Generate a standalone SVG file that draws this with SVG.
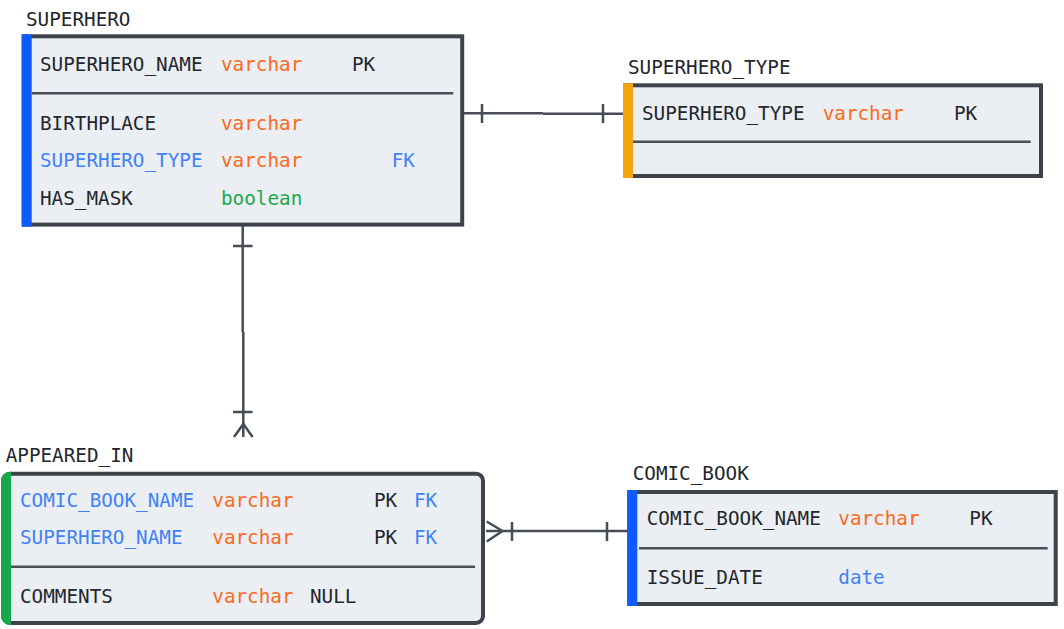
<svg xmlns="http://www.w3.org/2000/svg" width="1064" height="629" viewBox="0 0 1064 629">
<style>
  text { font-family: "DejaVu Sans Mono", "Liberation Mono", monospace; font-size: 19.3px; fill: #22262d; }
  .title { fill: #22262d; }
  .ty { fill: #fa6a1c; }
  .fk { fill: #3f82f7; }
  .bool { fill: #1aa84d; }
  .box { fill: #ebeef3; stroke: #3e424b; stroke-width: 4; }
  .div { stroke: #4a4f58; stroke-width: 2.5; fill: none; }
  .conn { stroke: #474c56; stroke-width: 2.5; fill: none; }
</style>
<rect width="1064" height="629" fill="#ffffff"/>

<g id="connectors">
  <!-- SUPERHERO -> SUPERHERO_TYPE -->
  <path class="conn" d="M 464 113.3 H 543 M 543 113.8 H 623"/>
  <path class="conn" d="M 482 104 V 123 M 603 104 V 123"/>
  <!-- SUPERHERO -> APPEARED_IN -->
  <path class="conn" d="M 242.7 226 V 332 M 243.3 332 V 437"/>
  <path class="conn" d="M 233 246 H 252.5 M 233 412 H 252.5"/>
  <path class="conn" d="M 234 437 L 243.3 424 L 252.6 437"/>
  <!-- APPEARED_IN -> COMIC_BOOK -->
  <path class="conn" d="M 486 531 H 627"/>
  <path class="conn" d="M 512 522 V 541 M 607 522 V 541"/>
  <path class="conn" d="M 486.7 521.5 L 502.5 531 L 486.7 541.5"/>
</g>

<g id="superhero">
  <text class="title" x="26" y="25.7">SUPERHERO</text>
  <rect class="box" x="23.7" y="36.3" width="438.5" height="188.3"/>
  <rect x="21.7" y="34.3" width="10" height="192.4" fill="#0d5bff"/>
  <line class="div" x1="32" y1="93.3" x2="453.3" y2="93.3"/>
  <text x="40" y="70.7">SUPERHERO_NAME</text>
  <text class="ty" x="221" y="70.7">varchar</text>
  <text x="352" y="70.7">PK</text>
  <text x="40" y="130">BIRTHPLACE</text>
  <text class="ty" x="221" y="130">varchar</text>
  <text class="fk" x="40" y="167.3">SUPERHERO_TYPE</text>
  <text class="ty" x="221" y="167.3">varchar</text>
  <text class="fk" x="391.7" y="167.3">FK</text>
  <text x="40" y="204.7">HAS_MASK</text>
  <text class="bool" x="221" y="204.7">boolean</text>
</g>

<g id="superhero_type">
  <text class="title" x="628" y="74">SUPERHERO_TYPE</text>
  <rect class="box" x="625" y="85.3" width="416" height="90.7"/>
  <rect x="623" y="83.3" width="10" height="94.7" fill="#f4a30c"/>
  <line class="div" x1="633" y1="141.7" x2="1030.7" y2="141.7"/>
  <text x="642" y="120">SUPERHERO_TYPE</text>
  <text class="ty" x="822.7" y="120">varchar</text>
  <text x="954" y="120">PK</text>
</g>

<g id="appeared_in">
  <text class="title" x="5.7" y="461.7">APPEARED_IN</text>
  <rect class="box" x="3" y="473.7" width="480" height="149.3" rx="7" ry="7"/>
  <path d="M 11 471.7 H 10 A 9 9 0 0 0 1 480.7 V 616 A 9 9 0 0 0 10 625 H 11 Z" fill="#16a84a"/>
  <line class="div" x1="11" y1="566.7" x2="475" y2="566.7"/>
  <text class="fk" x="20" y="506.7">COMIC_BOOK_NAME</text>
  <text class="ty" x="212.3" y="506.7">varchar</text>
  <text x="374" y="506.7">PK</text>
  <text class="fk" x="414" y="506.7">FK</text>
  <text class="fk" x="20" y="544">SUPERHERO_NAME</text>
  <text class="ty" x="212.3" y="544">varchar</text>
  <text x="374" y="544">PK</text>
  <text class="fk" x="414" y="544">FK</text>
  <text x="20" y="603.3">COMMENTS</text>
  <text class="ty" x="212.3" y="603.3">varchar</text>
  <text x="310" y="603.3">NULL</text>
</g>

<g id="comic_book">
  <text class="title" x="632.7" y="480">COMIC_BOOK</text>
  <rect class="box" x="629.3" y="492" width="426.4" height="112"/>
  <rect x="627.3" y="490" width="10" height="116" fill="#0d5bff"/>
  <line class="div" x1="639" y1="548.3" x2="1047.7" y2="548.3"/>
  <text x="646.7" y="525">COMIC_BOOK_NAME</text>
  <text class="ty" x="838.3" y="525">varchar</text>
  <text x="969.3" y="525">PK</text>
  <text x="646.7" y="584.3">ISSUE_DATE</text>
  <text class="fk" x="838.3" y="584.3">date</text>
</g>
</svg>
